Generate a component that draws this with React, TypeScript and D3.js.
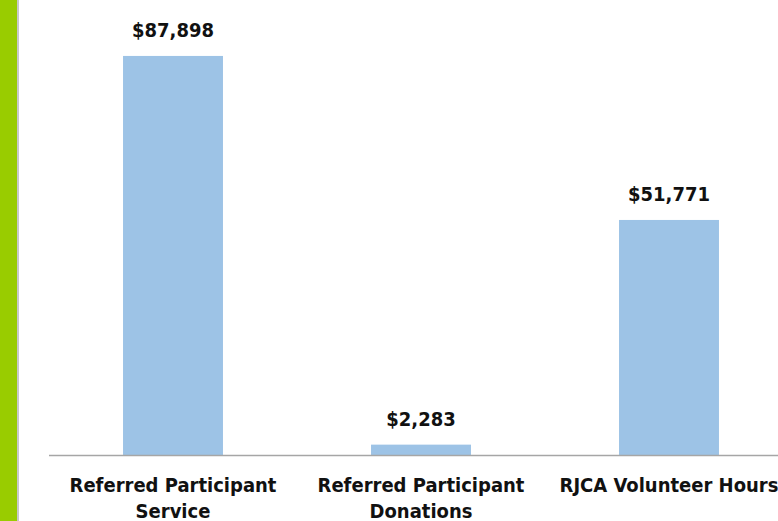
import React, { useEffect, useRef } from 'react';
import * as d3 from 'd3';

const categories: string[][] = [
  ['Referred Participant', 'Service'],
  ['Referred Participant', 'Donations'],
  ['RJCA Volunteer Hours'],
];
const values: number[] = [87898, 2283, 51771];

const width = 778;
const height = 521;

const App: React.FC = () => {
  const svgRef = useRef<SVGSVGElement>(null);

  useEffect(() => {
    if (!svgRef.current) return;
    const svg = d3.select(svgRef.current);
    svg.selectAll('*').remove();

    const baseY = 455;
    const font = '"DejaVu Sans Condensed", "DejaVu Sans", sans-serif';

    // green side strip + thin grey edge
    svg.append('rect').attr('x', 0).attr('y', 0).attr('width', 17).attr('height', height).style('fill', '#99cc00');
    svg.append('rect').attr('x', 17).attr('y', 0).attr('width', 2).attr('height', height).style('fill', '#c8c8c8');

    const x = d3.scaleBand<number>()
      .domain(d3.range(values.length))
      .range([49, 793])
      .paddingInner(0.597)
      .paddingOuter(0.2985);

    const y = d3.scaleLinear().domain([0, 100000]).range([baseY, 1]);

    svg.selectAll('.bar')
      .data(values)
      .enter().append('rect')
      .attr('class', 'bar')
      .attr('x', (_, i) => x(i)!)
      .attr('y', d => y(d))
      .attr('width', x.bandwidth())
      .attr('height', d => baseY - y(d))
      .style('fill', '#9dc3e6');

    // baseline
    svg.append('line')
      .attr('x1', 49).attr('x2', width)
      .attr('y1', baseY + 0.5).attr('y2', baseY + 0.5)
      .style('stroke', '#a6a6a6')
      .style('stroke-width', 1.5);

    // value labels
    svg.selectAll('.val')
      .data(values)
      .enter().append('text')
      .attr('class', 'val')
      .attr('x', (_, i) => x(i)! + x.bandwidth() / 2)
      .attr('y', d => y(d) - 19)
      .style('text-anchor', 'middle')
      .style('font-family', font)
      .style('font-weight', 'bold')
      .style('font-size', '20px')
      .style('fill', '#111')
      .text(d => '$' + d3.format(',')(d));

    // category labels
    const cat = svg.selectAll('.cat')
      .data(categories)
      .enter().append('text')
      .attr('class', 'cat')
      .attr('x', (_, i) => x(i)! + x.bandwidth() / 2)
      .attr('y', 492)
      .style('text-anchor', 'middle')
      .style('font-family', font)
      .style('font-weight', 'bold')
      .style('font-size', '20px')
      .style('fill', '#111');

    cat.each(function (lines, i) {
      const t = d3.select(this);
      const cx = x(i)! + x.bandwidth() / 2;
      lines.forEach((l, j) => {
        t.append('tspan').attr('x', cx).attr('dy', j === 0 ? 0 : 26).text(l);
      });
    });
  }, []);

  return (
    <div style={{ position: 'absolute', left: 0, top: 0, width, height, background: '#fff' }}>
      <svg ref={svgRef} width={width} height={height} style={{ display: 'block' }} />
    </div>
  );
};

export default App;
